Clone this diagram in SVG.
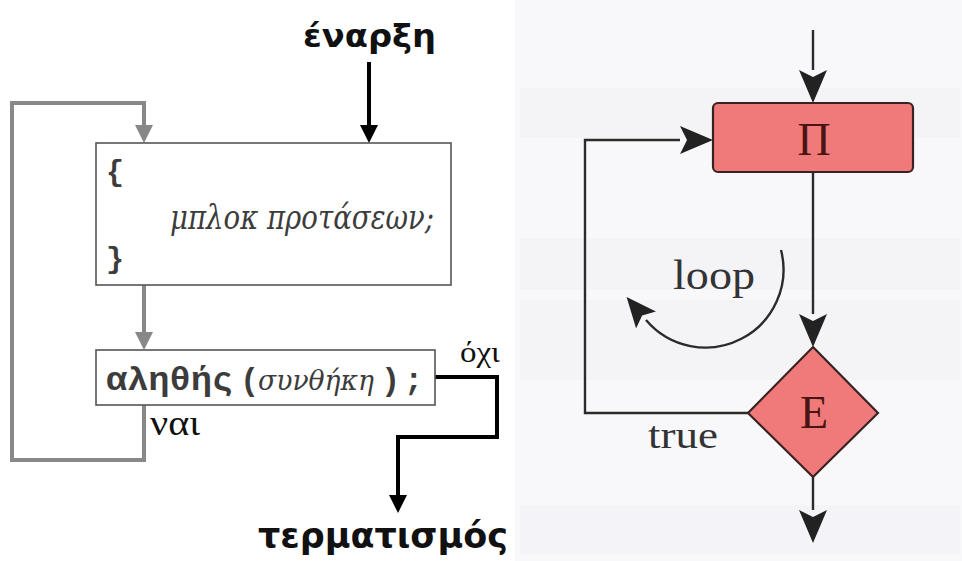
<svg xmlns="http://www.w3.org/2000/svg" width="962" height="561" viewBox="0 0 962 561">
  <style>
    .title { font-family: "DejaVu Sans", "Noto Sans", sans-serif; font-weight: bold; fill: #111; }
    .mono { font-family: "Liberation Mono", "DejaVu Sans Mono", monospace; font-weight: bold; fill: #3c3c3c; }
    .ital { font-family: "DejaVu Serif", "Liberation Serif", serif; font-style: italic; fill: #3c3c3c; }
    .lbl { font-family: "Liberation Serif", "DejaVu Serif", serif; fill: #111; }
    .rlbl { font-family: "Liberation Serif", "DejaVu Serif", serif; fill: #333; }
    .box { fill: #fff; stroke: #555; stroke-width: 1.6; }
    .flowK { fill: none; stroke: #000; stroke-width: 4; }
    .flowG { fill: none; stroke: #888; stroke-width: 4; }
    .flowR { fill: none; stroke: #2b2b2b; stroke-width: 2.4; }
    .shape { fill: #f07a7a; stroke: #3a2222; stroke-width: 2.2; }
    .sym { font-family: "Liberation Serif", "DejaVu Serif", serif; fill: #4a1414; }
  </style>
  <defs>
    <marker id="headK" markerUnits="userSpaceOnUse" markerWidth="18" markerHeight="18" refX="0" refY="9" orient="auto">
      <path d="M0,0 L18,9 L0,18 Z" fill="#000"/>
    </marker>
    <marker id="headG" markerUnits="userSpaceOnUse" markerWidth="18" markerHeight="18" refX="0" refY="9" orient="auto">
      <path d="M0,0 L18,9 L0,18 Z" fill="#888"/>
    </marker>
    <marker id="headR" markerUnits="userSpaceOnUse" markerWidth="33" markerHeight="28" refX="0" refY="14" orient="auto">
      <path d="M0,0 L33,14 L0,28 L7,14 Z" fill="#222"/>
    </marker>
    <marker id="headC" markerUnits="userSpaceOnUse" markerWidth="30" markerHeight="26" refX="0" refY="13" orient="auto">
      <path d="M0,0 L30,13 L0,26 L6,13 Z" fill="#222"/>
    </marker>
  </defs>

  <!-- page backgrounds -->
  <rect x="0" y="0" width="962" height="561" fill="#fff"/>
  <rect x="515" y="0" width="447" height="561" fill="#f8f8fa"/>
  <g fill="#e8e8ee" opacity="0.2">
    <rect x="520" y="88" width="440" height="50"/>
    <rect x="520" y="238" width="440" height="52"/>
    <rect x="520" y="300" width="440" height="80"/>
    <rect x="520" y="505" width="440" height="50"/>
  </g>

  <!-- connectors -->
  <g id="connectors">
    <path class="flowK" d="M369,62 V125" marker-end="url(#headK)"/>
    <path class="flowG" d="M144,405 V460 H12 V103 H144 V125" marker-end="url(#headG)"/>
    <path class="flowG" d="M144,285 V332" marker-end="url(#headG)"/>
    <path class="flowK" d="M435,377 H497 V437 H398 V495" marker-end="url(#headK)"/>

    <path class="flowR" d="M813,30 V70" marker-end="url(#headR)"/>
    <path class="flowR" d="M748,413 H585 V140 H680" marker-end="url(#headR)"/>
    <path class="flowR" d="M813,172 V314" marker-end="url(#headR)"/>
    <path class="flowR" d="M813,477 V510" marker-end="url(#headR)"/>
    <path class="flowR" d="M781,250 A78,78 0 0,1 646,320" marker-end="url(#headC)"/>
  </g>

  <!-- left flowchart -->
  <g id="start">
    <text class="title" x="303" y="47" font-size="32" textLength="133" lengthAdjust="spacingAndGlyphs">έναρξη</text>
  </g>
  <g id="block">
    <rect class="box" x="96" y="143" width="355" height="142"/>
    <text class="mono" x="106" y="181" font-size="30">{</text>
    <text class="ital" x="170" y="229" font-size="34" textLength="264" lengthAdjust="spacingAndGlyphs">μπλοκ προτάσεων;</text>
    <text class="mono" x="106" y="268" font-size="30">}</text>
  </g>
  <g id="condition">
    <rect class="box" x="96" y="350" width="339" height="55"/>
    <text class="mono" x="106" y="390" font-size="34" textLength="127" lengthAdjust="spacingAndGlyphs">αληθής</text>
    <text class="mono" x="240" y="390" font-size="32">(</text>
    <text class="ital" x="258" y="390" font-size="27" textLength="116" lengthAdjust="spacingAndGlyphs">συνθήκη</text>
    <text class="mono" x="381" y="390" font-size="32">)</text>
    <text class="mono" x="404" y="390" font-size="32">;</text>
  </g>
  <g id="labels">
    <text class="lbl" x="460" y="362" font-size="29" textLength="40" lengthAdjust="spacingAndGlyphs">όχι</text>
    <text class="lbl" x="150" y="435" font-size="36" textLength="50" lengthAdjust="spacingAndGlyphs">ναι</text>
  </g>
  <g id="end">
    <text class="title" x="258" y="548" font-size="36" textLength="250" lengthAdjust="spacingAndGlyphs">τερματισμός</text>
  </g>

  <!-- right flowchart -->
  <g id="process">
    <rect class="shape" x="713" y="103" width="200" height="69" rx="5"/>
    <text class="sym" x="814" y="155" font-size="46" text-anchor="middle">Π</text>
  </g>
  <g id="decision">
    <path class="shape" d="M813,347 L878,413 L813,477 L748,413 Z"/>
    <text class="sym" x="814" y="428" font-size="46" text-anchor="middle">Ε</text>
  </g>
  <g id="loopLabels">
    <text class="rlbl" x="673" y="289" font-size="42" textLength="82" lengthAdjust="spacingAndGlyphs">loop</text>
    <text class="rlbl" x="648" y="448" font-size="38" textLength="70" lengthAdjust="spacingAndGlyphs">true</text>
  </g>
</svg>
